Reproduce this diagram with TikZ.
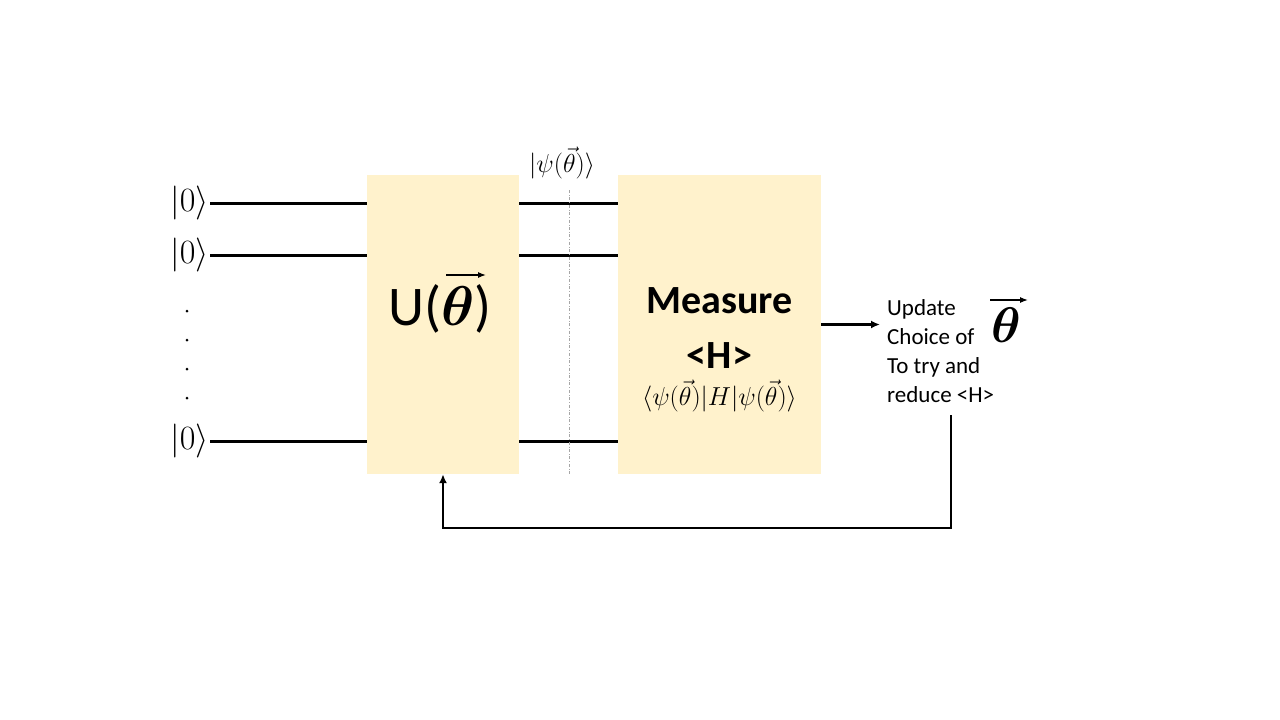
\documentclass[tikz,border=0pt]{standalone}
\usepackage{fix-cm}
\usepackage{amsmath}
\usepackage{bm}
\usepackage{fontspec}
\setmainfont{Carlito}
\usepackage{tikz}
\usetikzlibrary{positioning,arrows.meta}
\definecolor{gatefill}{HTML}{FFF2CC}
\tikzstyle{gate} = [fill=gatefill, minimum height=299pt, inner sep=0pt]
\tikzstyle{wire} = [line width=3pt]
\tikzstyle{ket} = [font=\fontsize{34}{40}\selectfont, anchor=east, inner sep=1pt]
\tikzstyle{flow} = [line width=2.4pt, -{Latex[length=9pt,width=8pt]}]
\tikzstyle{vecarrow} = [line width=1.3pt, -{Latex[length=8pt,width=6pt]}]

\begin{document}
\begin{tikzpicture}[x=1pt,y=-1pt]
		\useasboundingbox (0,0) rectangle (1280,720);
		\node [gate, minimum width=152pt] (ubox) at (443,324.5) {};
		\node [gate, minimum width=203pt] (mbox) at (719.5,324.5) {};
		\node [font=\fontsize{56}{58}\selectfont, anchor=north east, inner sep=0pt] (ulabel) at (492,284) {U($\bm\theta$)};
		\node [font=\bfseries\fontsize{40}{55}\selectfont, align=center, inner sep=0pt] (mtitle) at (719.5,328) {Measure\\<H>};
		\node [font=\fontsize{26}{28}\selectfont, inner sep=0pt] (expect) at (719.5,396) {$\langle\psi(\vec\theta)|H|\psi(\vec\theta)\rangle$};
		\node [ket] (q1) at (210,203) {$|0\rangle$};
		\node [ket] (q2) at (210,255) {$|0\rangle$};
		\node [ket] (q3) at (210,441) {$|0\rangle$};
		\foreach \y in {311,340,369,398}
			\fill (187,\y) circle (1.5pt);
		\node [font=\fontsize{26}{28}\selectfont, inner sep=0pt] (psi) at (562,163) {$|\psi(\vec\theta)\rangle$};
		\node [font=\fontsize{23}{29}\selectfont, align=left, anchor=north west, inner sep=0pt] (upd) at (887,299) {Update\\Choice of\\To try and\\reduce <H>};
		\node [font=\fontsize{50}{52}\selectfont, anchor=north west, inner sep=0pt] (thv) at (991,308) {$\bm\theta$};
		\coordinate (fb) at (951,415);
		\coordinate (cuttop) at (569,190);
		
		% vector arrows over theta
		\draw [vecarrow] (ulabel.north east) ++(-46,-9) -- ++(40,0);
		\draw [vecarrow] (thv.north west) ++(-1,-8) -- ++(38,0);
		% qubit wires
		\foreach \q in {q1,q2,q3} {
			\draw [wire] (\q.east) -- (ubox.west |- \q.east);
			\draw [wire] (ubox.east |- \q.east) -- (mbox.west |- \q.east);
		}
		\draw [gray!70, thin, dash dot] (cuttop) -- (cuttop |- ubox.south);
		\draw [flow] (mbox.east) -- ([xshift=-7pt]upd.west |- mbox.east);
		\draw [flow] (fb) -- (951,528) -| (ubox.south);
	\end{tikzpicture}
\end{document}
